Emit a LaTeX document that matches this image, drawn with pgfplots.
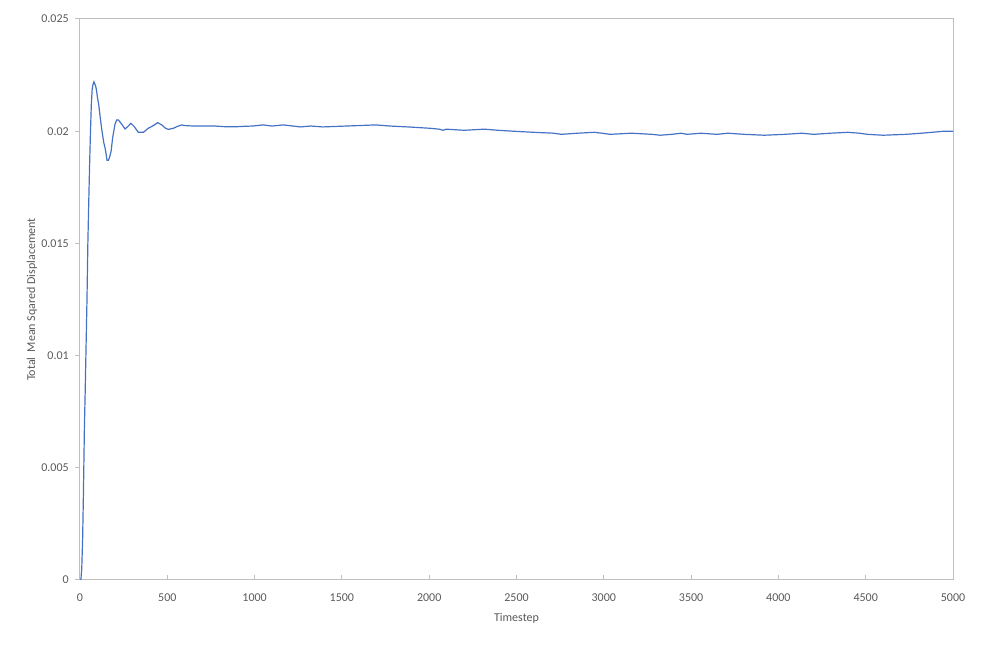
\documentclass[border=0pt]{standalone}
\usepackage{fontspec}
\setmainfont{Carlito}
\usepackage{pgfplots}
\pgfplotsset{compat=1.18}
\definecolor{xlblue}{HTML}{4472C4}
\definecolor{txtgray}{HTML}{595959}
\definecolor{axgray}{HTML}{BFBFBF}

\begin{document}
\begin{tikzpicture}[x=0.75pt,y=0.75pt]
\begin{axis}[
  at={(0,0)}, anchor=south west,
  scale only axis,
  width=654.75pt, height=420.75pt,
  xmin=0, xmax=5000, ymin=0, ymax=0.025,
  xtick={0,500,...,5000},
  xticklabels={0,500,1000,1500,2000,2500,3000,3500,4000,4500,5000},
  ytick={0,0.005,0.01,0.015,0.02,0.025},
  yticklabels={0,0.005,0.01,0.015,0.02,0.025},
  scaled y ticks=false,
  xtick pos=lower, ytick pos=lower,
  tick align=inside,
  major tick length=3.75pt,
  tick style={axgray, line width=0.75pt},
  ytick style={xshift=-3.75pt},
  axis line style={axgray, line width=0.75pt},
  every tick label/.append style={font=\fontsize{9}{11}\selectfont, text=txtgray},
  yticklabel style={anchor=east, inner sep=0pt, xshift=-8.25pt},
  xticklabel style={anchor=north, inner sep=0pt, yshift=-10pt},
  xlabel={Timestep},
  ylabel={Total\ \ Mean Sqared Displacement},
  label style={font=\fontsize{9}{11}\selectfont, text=txtgray},
  xlabel style={at={(axis description cs:0.5,-0.0677)}, anchor=center},
  ylabel style={at={(axis description cs:-0.0550,0.5)}, anchor=center},
]
\addplot[xlblue, line width=0.9pt] coordinates {
(0,0) (5,0.0000) (10,0.0005) (15,0.0018) (20,0.0040) (25,0.0067)
(30,0.0085) (35,0.0105) (40,0.0125) (45,0.0150) (50,0.0168) (55,0.0185)
(60,0.0200) (65,0.0212) (70,0.0219) (75,0.0221) (80,0.0222) (85,0.0221)
(90,0.0220) (95,0.0218) (100,0.0215) (107,0.0212) (116,0.0206) (126,0.0200)
(136,0.0195) (145,0.0192) (155,0.0187) (162,0.0187) (168,0.0188) (178,0.0191)
(187,0.0197) (200,0.0203) (210,0.0205) (220,0.0205) (230,0.0204) (240,0.0203)
(258,0.0201) (273,0.0202) (292,0.02035) (311,0.0202) (334,0.01995) (363,0.01995)
(391,0.02013) (420,0.02025) (445,0.02038) (468,0.02028) (490,0.02013) (506,0.02008)
(535,0.02013) (554,0.0202) (582,0.02028) (601,0.02025) (650,0.02023) (700,0.02023)
(773,0.02023) (830,0.0202) (900,0.0202) (950,0.02022)
(990,0.02023) (1048,0.02028) (1100,0.02023) (1165,0.02028) (1220,0.02023)
(1263,0.02019) (1322,0.02023) (1390,0.02019) (1527,0.02023) (1694,0.02028)
(1773,0.02023) (1878,0.02019) (2005,0.02013) (2057,0.02009) (2080,0.02004)
(2097,0.02009) (2200,0.02004) (2316,0.02009) (2393,0.02004) (2480,0.02000)
(2598,0.01995) (2713,0.01991) (2757,0.01986) (2850,0.01991) (2945,0.01995)
(2990,0.01991) (3035,0.01986) (3157,0.01991) (3276,0.01986) (3322,0.01982)
(3389,0.01986) (3443,0.01991) (3476,0.01986) (3557,0.01991) (3648,0.01986)
(3711,0.01991) (3804,0.01986) (3920,0.01982) (4036,0.01986) (4134,0.01991)
(4203,0.01986) (4297,0.01991) (4398,0.01995) (4465,0.01991) (4510,0.01986)
(4599,0.01982) (4730,0.01986) (4820,0.01991) (4878,0.01995) (4950,0.02000)
(5000,0.02000)
};
\end{axis}
\pgfresetboundingbox
\path (-80,-68) rectangle (907,580);
\end{tikzpicture}
\end{document}
